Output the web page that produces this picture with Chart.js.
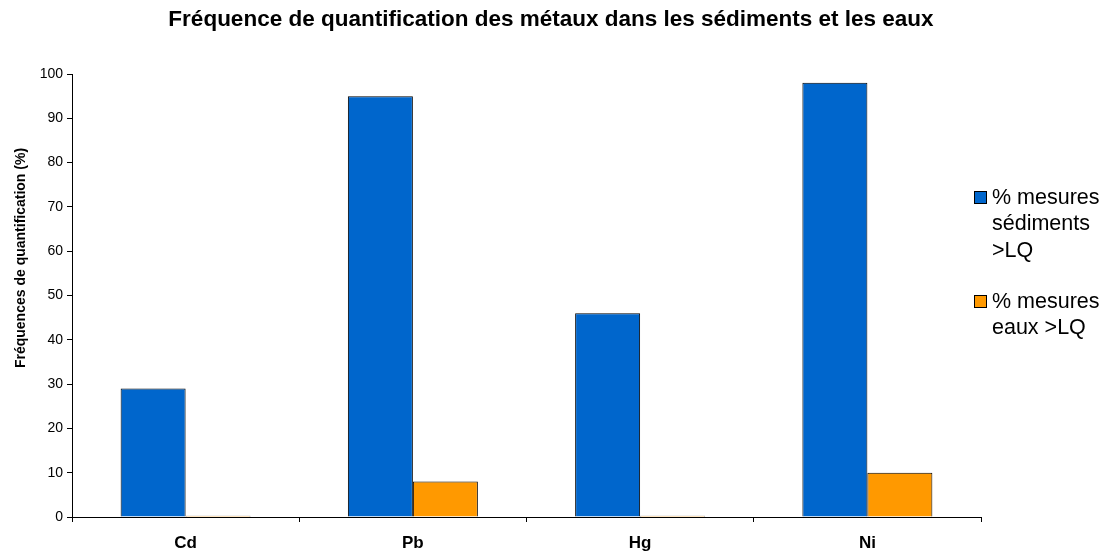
<!DOCTYPE html>
<html>
<head>
<meta charset="utf-8">
<script src="https://cdn.jsdelivr.net/npm/chart.js@4.4.0/dist/chart.umd.min.js"></script>
<style>
  html, body { margin: 0; padding: 0; background: #fff; }
  #wrap { width: 1112px; height: 556px; position: relative; }
</style>
</head>
<body>
<div id="wrap"><canvas id="chart"></canvas></div>
<script>
/* Data */
const chartTitle = 'Fréquence de quantification des métaux dans les sédiments et les eaux';
const yTitle = 'Fréquences de quantification (%)';
const metals = ['Cd', 'Pb', 'Hg', 'Ni'];
const sedimentsPct = [29, 95, 46, 98];
const eauxPct = [0.3, 8, 0.3, 10];
const legendSediments = ['% mesures', 'sédiments', '>LQ'];
const legendEaux = ['% mesures', 'eaux >LQ'];

const FONT = '"Liberation Sans", Arial, sans-serif';

/* Title, rotated y title and multi-line legend drawn by hand */
const decor = {
  id: 'decor',
  afterDraw(chart) {
    const ctx = chart.ctx;
    ctx.save();
    ctx.fillStyle = '#000';
    ctx.textAlign = 'center';
    ctx.textBaseline = 'middle';
    ctx.font = 'bold 22.5px ' + FONT;
    ctx.fillText(chartTitle, 551, 20);

    ctx.translate(21, 258);
    ctx.rotate(-Math.PI / 2);
    ctx.font = 'bold 14px ' + FONT;
    ctx.fillText(yTitle, 0, 0);
    ctx.restore();

    // legend
    ctx.save();
    ctx.font = '21.5px ' + FONT;
    ctx.textAlign = 'left';
    ctx.textBaseline = 'middle';
    const items = [
      { lines: chart.data.datasets[0].label.split('\n'), color: chart.data.datasets[0].backgroundColor, y: 197 },
      { lines: chart.data.datasets[1].label.split('\n'), color: chart.data.datasets[1].backgroundColor, y: 301 },
    ];
    items.forEach(it => {
      ctx.fillStyle = it.color;
      ctx.fillRect(974, it.y - 6, 12, 12);
      ctx.strokeStyle = '#000';
      ctx.lineWidth = 1;
      ctx.strokeRect(974.5, it.y - 5.5, 12, 12);
      ctx.fillStyle = '#000';
      it.lines.forEach((l, i) => ctx.fillText(l, 992, it.y + 1 + i * 26.5));
    });
    ctx.restore();
  }
};

new Chart(document.getElementById('chart'), {
  type: 'bar',
  data: {
    labels: metals,
    datasets: [
      { label: legendSediments.join('\n'), data: sedimentsPct, backgroundColor: '#0066CC', borderColor: '#000', borderWidth: 1, categoryPercentage: 0.572, barPercentage: 1 },
      { label: legendEaux.join('\n'), data: eauxPct, backgroundColor: '#FF9900', borderColor: '#000', borderWidth: 1, categoryPercentage: 0.572, barPercentage: 1 },
    ]
  },
  options: {
    responsive: true,
    maintainAspectRatio: false,
    animation: false,
    layout: { padding: { top: 74, right: 131, left: 0, bottom: 0 } },
    plugins: { legend: { display: false }, tooltip: { enabled: false }, title: { display: false } },
    scales: {
      x: {
        grid: { offset: true, drawOnChartArea: false, color: '#000', tickLength: 5 },
        border: { color: '#000' },
        ticks: { color: '#000', font: { family: FONT, size: 17, weight: 'bold' }, padding: 11 },
        afterFit: s => { s.height = 39; }
      },
      y: {
        min: 0, max: 100,
        grid: { drawOnChartArea: false, color: '#000', tickLength: 5 },
        border: { color: '#000' },
        ticks: { stepSize: 10, color: '#000', font: { family: FONT, size: 14 }, padding: 4 },
        afterFit: s => { s.width = 72; }
      }
    }
  },
  plugins: [decor]
});
</script>
</body>
</html>
